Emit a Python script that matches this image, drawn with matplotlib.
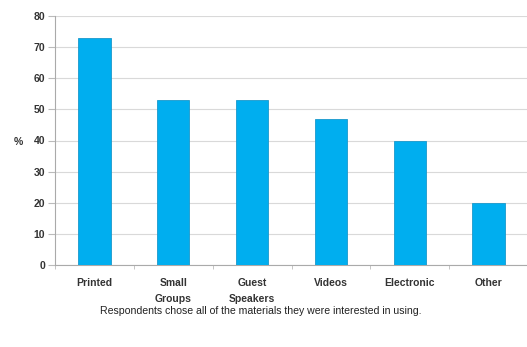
import matplotlib.pyplot as plt
import numpy as np

# materials respondents were interested in using (% of respondents)
categories = ['Printed', 'Small\nGroups', 'Guest\nSpeakers', 'Videos', 'Electronic', 'Other']
percent = [73, 53, 53, 47, 40, 20]
yticks = [0, 10, 20, 30, 40, 50, 60, 70, 80]

plt.rcParams['font.family'] = ['Liberation Sans', 'DejaVu Sans']

fig = plt.figure(figsize=(5.27, 3.47), dpi=100)
ax = fig.add_axes([55 / 527, 1 - 265 / 347, 473 / 527, 249 / 347])

x = np.arange(len(categories))
ax.bar(x, percent, width=0.41, color='#00aeef', edgecolor='#1a98cc', linewidth=0.6, zorder=3)

ax.set_xlim(-0.5, len(categories) - 0.5)
ax.set_ylim(0, 80)
ax.set_yticks(yticks)
ax.set_yticklabels([str(v) for v in yticks], fontsize=7.5, fontweight='bold', color='#333333')
ax.set_xticks(x)
ax.set_xticklabels(categories, fontsize=7.5, fontweight='bold', color='#333333', linespacing=1.75)
ax.tick_params(axis='x', length=0, pad=9)
ax.tick_params(axis='y', length=5, color='#bbbbbb', pad=2)

# small tick marks between categories
ax.set_xticks(np.arange(-0.5, len(categories)), minor=True)
ax.tick_params(axis='x', which='minor', length=3, color='#bbbbbb')

ax.grid(axis='y', color='#d9d9d9', linewidth=0.8, zorder=0)
for side in ['top', 'right']:
    ax.spines[side].set_visible(False)
ax.spines['left'].set_color('#aaaaaa')
ax.spines['bottom'].set_color('#aaaaaa')

fig.text(18 / 527, 1 - 142 / 347, '%', fontsize=7.5, fontweight='bold', color='#333333',
         ha='center', va='center')
fig.text(261 / 527, 1 - 311 / 347, 'Respondents chose all of the materials they were interested in using.',
         fontsize=7.6, color='#222222', ha='center', va='center')

fig.savefig('out.png', dpi=100)
